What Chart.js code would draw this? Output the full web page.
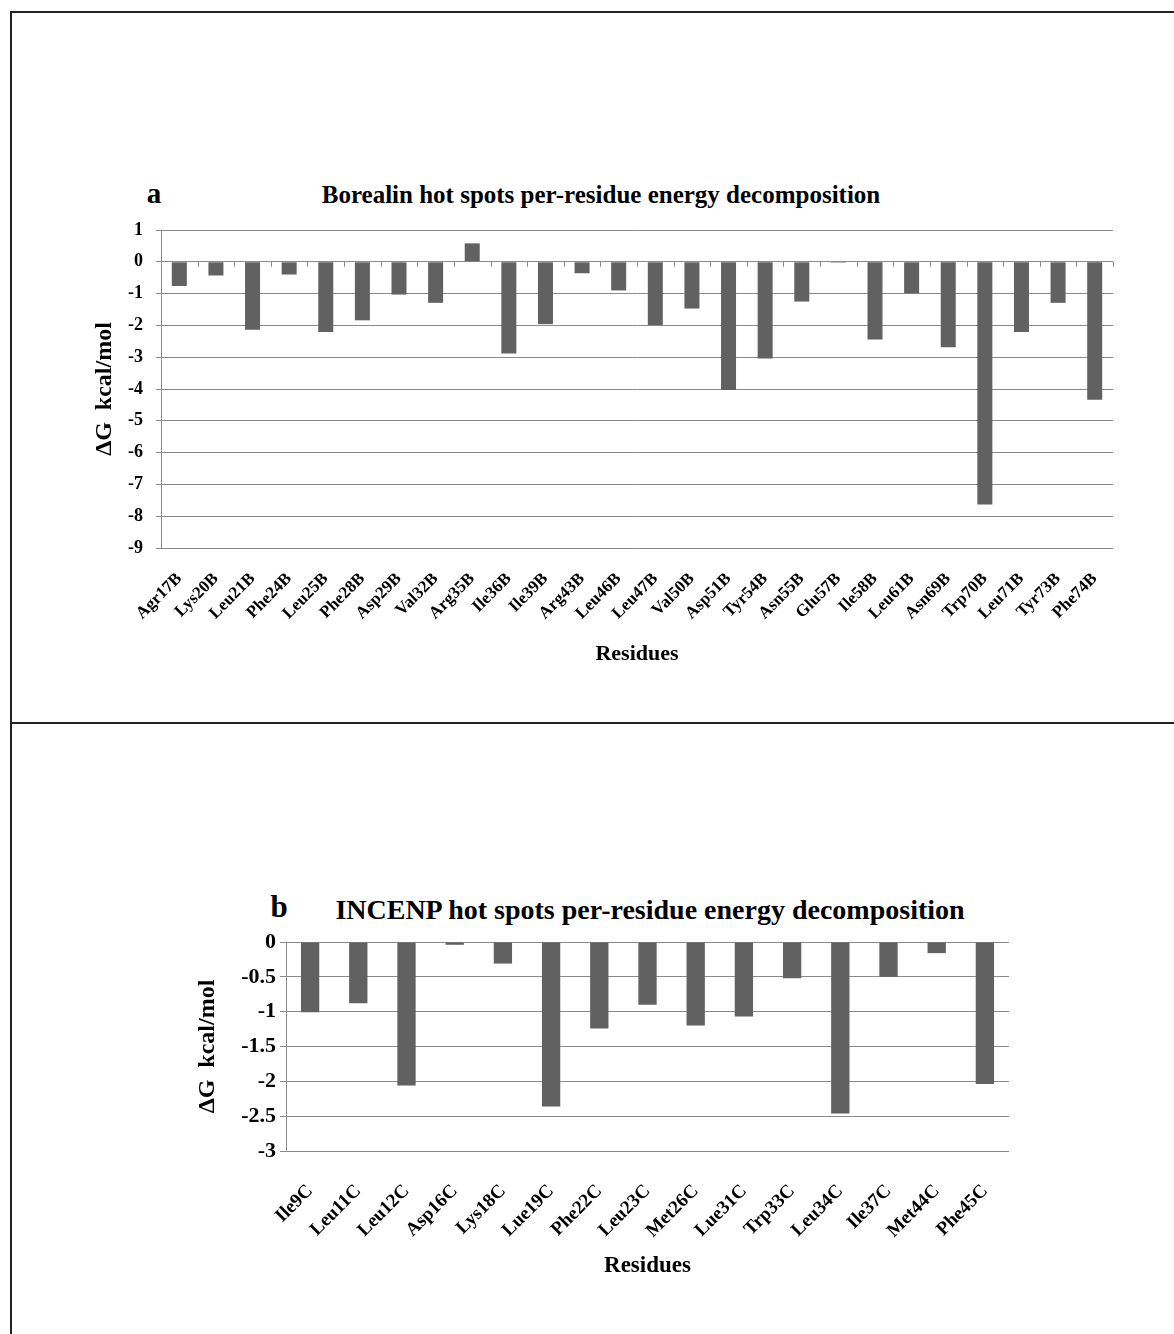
<!DOCTYPE html>
<html>
<head>
<meta charset="utf-8">
<script src="https://cdn.jsdelivr.net/npm/chart.js@4.4.1/dist/chart.umd.min.js"></script>
<style>
  html, body { margin: 0; padding: 0; background: #fff; }
  #page { position: relative; width: 1174px; height: 1334px; overflow: hidden; font-family: "Liberation Serif", "Times New Roman", serif; }
  .line { position: absolute; background: #222; }
  .lbl { position: absolute; font-weight: bold; color: #000; white-space: nowrap; transform: translate(-50%, -50%); }
  .box { position: absolute; left: 0; width: 1174px; }
</style>
</head>
<body>
<div id="page">
  <div class="line" style="left:10px; top:11px; width:1164px; height:2px;"></div>
  <div class="line" style="left:10px; top:11px; width:2px; height:1323px;"></div>
  <div class="line" style="left:10px; top:722px; width:1164px; height:2px;"></div>

  <div class="lbl" style="left:154px; top:193px; font-size:29px;">a</div>
  <div class="lbl" style="left:601px; top:195px; font-size:25px;">Borealin hot spots per-residue energy decomposition</div>
  <div class="lbl" style="left:279px; top:907px; font-size:31px;">b</div>
  <div class="lbl" style="left:650px; top:910px; font-size:28px;">INCENP hot spots per-residue energy decomposition</div>

  <div class="box" style="top:170px; height:510px;"><canvas id="chartA"></canvas></div>
  <div class="box" style="top:860px; height:460px;"><canvas id="chartB"></canvas></div>
</div>

<script>
// Borealin residues (panel a)
const residuesA = ['Agr17B', 'Lys20B', 'Leu21B', 'Phe24B', 'Leu25B', 'Phe28B', 'Asp29B', 'Val32B', 'Arg35B', 'Ile36B',
  'Ile39B', 'Arg43B', 'Leu46B', 'Leu47B', 'Val50B', 'Asp51B', 'Tyr54B', 'Asn55B', 'Glu57B', 'Ile58B',
  'Leu61B', 'Asn69B', 'Trp70B', 'Leu71B', 'Tyr73B', 'Phe74B'];
const energyA = [-0.76, -0.43, -2.14, -0.40, -2.21, -1.84, -1.03, -1.29, 0.58, -2.88,
  -1.96, -0.36, -0.90, -1.99, -1.47, -4.03, -3.04, -1.25, -0.03, -2.44,
  -0.99, -2.69, -7.63, -2.21, -1.29, -4.34];

// INCENP residues (panel b)
const residuesB = ['Ile9C', 'Leu11C', 'Leu12C', 'Asp16C', 'Lys18C', 'Lue19C', 'Phe22C', 'Leu23C', 'Met26C', 'Lue31C',
  'Trp33C', 'Leu34C', 'Ile37C', 'Met44C', 'Phe45C'];
const energyB = [-1.01, -0.88, -2.06, -0.04, -0.31, -2.36, -1.24, -0.90, -1.20, -1.07,
  -0.52, -2.46, -0.50, -0.16, -2.04];

const yRangeA = { min: -9, max: 1, step: 1 };
const yRangeB = { min: -3, max: 0, step: 0.5 };

const FONT = '"Liberation Serif", "Times New Roman", serif';
const GRID = '#8a8a8a';
const BAR = '#616161';

// small tick marks hanging under the zero line between categories (panel a)
const zeroTicks = {
    id: 'zeroTicks',
    afterDatasetsDraw(chart) {
        const x = chart.scales.x, y = chart.scales.y;
        const y0 = y.getPixelForValue(0);
        const c = chart.ctx;
        c.save();
        c.strokeStyle = GRID;
        c.lineWidth = 1;
        for (let i = 0; i <= x.ticks.length; i++) {
            const px = Math.round(x.getPixelForValue(i - 0.5)) + 0.5;
            c.beginPath();
            c.moveTo(px, y0);
            c.lineTo(px, y0 + 5);
            c.stroke();
        }
        c.restore();
    }
};

function makeChart(id, labels, values, range, opt) {
    return new Chart(document.getElementById(id), {
        type: 'bar',
        data: {
            labels: labels,
            datasets: [{
                data: values,
                backgroundColor: BAR,
                borderWidth: 0,
                categoryPercentage: 1,
                barPercentage: opt.barPct
            }]
        },
        options: {
            responsive: true,
            maintainAspectRatio: false,
            animation: false,
            layout: { padding: opt.padding },
            plugins: { legend: { display: false }, tooltip: { enabled: false } },
            scales: {
                x: {
                    grid: { display: false },
                    border: { display: false },
                    ticks: {
                        autoSkip: false,
                        minRotation: 45,
                        maxRotation: 45,
                        padding: opt.xPad,
                        color: '#000',
                        font: { family: FONT, size: opt.xFont, weight: 'bold' }
                    },
                    title: {
                        display: true,
                        text: 'Residues',
                        color: '#000',
                        padding: { top: 4, bottom: 4 },
                        font: { family: FONT, size: opt.xTitleFont, weight: 'bold' }
                    },
                    afterFit(s) { s.height = opt.xHeight; }
                },
                y: {
                    min: range.min,
                    max: range.max,
                    grid: { color: GRID, lineWidth: 1, tickLength: opt.tickLen },
                    border: { color: GRID, width: 1 },
                    ticks: {
                        stepSize: range.step,
                        padding: opt.yPad,
                        color: '#000',
                        font: { family: FONT, size: opt.yFont, weight: 'bold' },
                        callback: v => String(v)
                    },
                    title: {
                        display: true,
                        text: 'ΔG  kcal/mol',
                        color: '#000',
                        padding: { top: opt.yTitlePad, bottom: 0 },
                        font: { family: FONT, size: 24, weight: 'bold' }
                    },
                    afterFit(s) { s.width = opt.yWidth; }
                }
            }
        },
        plugins: opt.plugins || []
    });
}

makeChart('chartA', residuesA, energyA, yRangeA, {
    barPct: 0.41,
    padding: { left: 80, top: 60, right: 61, bottom: 8 },
    yWidth: 81, xHeight: 124,
    xPad: 13, xFont: 17, xTitleFont: 22,
    yPad: 13, yFont: 18, tickLen: 5, yTitlePad: 10.6,
    plugins: [zeroTicks]
});

makeChart('chartB', residuesB, energyB, yRangeB, {
    barPct: 0.38,
    padding: { left: 180, top: 82, right: 165, bottom: 36 },
    yWidth: 106, xHeight: 133,
    xPad: 21, xFont: 19, xTitleFont: 23,
    yPad: 4, yFont: 22, tickLen: 6, yTitlePad: 13.6
});
</script>
</body>
</html>
